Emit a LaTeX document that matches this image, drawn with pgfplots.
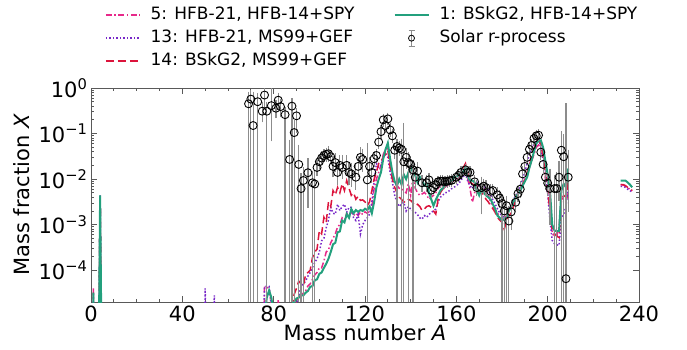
\documentclass[border=0pt]{standalone}
\usepackage{pgfplots}
\pgfplotsset{compat=1.18}
\usepackage{pgfplotstable}
\usepackage{fontspec}
\setmainfont{DejaVu Sans}
\definecolor{cPink}{RGB}{231,41,138}
\definecolor{cPurp}{RGB}{120,40,200}
\definecolor{cRed}{RGB}{220,20,60}
\definecolor{cGreen}{RGB}{35,160,125}
\definecolor{cErr}{RGB}{140,140,140}

\pgfplotstableread[row sep=\\]{
A X ep em\\
75 0.31 0.10 0.10\\ 76 0.70 0.30 0.30\\ 79 0.41 0.45 0.33\\ 81 0.36 0.10 0.10\\ 82 0.54 0.12 0.12\\
83 0.39 0.10 0.12\\ 90 0.245 0.06 0.12\\ 95 0.0138 0.010 0.011\\ 99 0.018 0.004 0.004\\
100 0.024 0.004 0.004\\ 101 0.029 0.005 0.005\\ 102 0.033 0.005 0.005\\ 103 0.035 0.006 0.006\\
104 0.036 0.008 0.008\\ 105 0.031 0.006 0.006\\ 106 0.019 0.008 0.006\\ 107 0.023 0.008 0.006\\
108 0.014 0.006 0.005\\ 109 0.020 0.008 0.006\\ 110 0.018 0.010 0.006\\ 112 0.020 0.008 0.006\\
113 0.014 0.006 0.005\\ 114 0.013 0.006 0.005\\ 116 0.011 0.008 0.004\\ 117 0.019 0.008 0.006\\
118 0.030 0.012 0.010\\ 119 0.027 0.012 0.010\\ 122 0.019 0.006 0.006\\ 123 0.014 0.004 0.004\\
124 0.028 0.006 0.006\\ 125 0.033 0.006 0.006\\ 126 0.065 0.010 0.010\\ 127 0.11 0.02 0.02\\
128 0.20 0.03 0.03\\ 129 0.15 0.03 0.03\\ 130 0.21 0.03 0.03\\ 131 0.12 0.02 0.02\\
132 0.089 0.015 0.015\\ 133 0.043 0.010 0.010\\ 135 0.048 0.010 0.010\\ 138 0.030 0.010 0.010\\
140 0.021 0.006 0.006\\ 142 0.011 0.005 0.004\\ 143 0.015 0.005 0.004\\ 145 0.0083 0.002 0.002\\
147 0.0083 0.002 0.002\\ 148 0.0096 0.002 0.002\\ 149 0.0057 0.001 0.001\\ 150 0.0065 0.001 0.001\\
151 0.0075 0.0012 0.0012\\ 152 0.0087 0.0012 0.0012\\ 153 0.0090 0.0012 0.0012\\ 154 0.0090 0.0012 0.0012\\
155 0.0087 0.0012 0.0012\\ 156 0.0090 0.0012 0.0012\\ 157 0.0092 0.0012 0.0012\\ 158 0.0094 0.0013 0.0013\\
160 0.011 0.0015 0.0015\\ 161 0.012 0.0015 0.0015\\ 162 0.014 0.002 0.002\\ 164 0.016 0.002 0.002\\
165 0.014 0.002 0.002\\ 166 0.014 0.002 0.002\\ 168 0.0087 0.0015 0.0015\\ 169 0.0065 0.0015 0.0015\\
171 0.0065 0.003 0.0045\\ 172 0.0070 0.0015 0.0015\\ 173 0.0065 0.0015 0.0015\\ 175 0.0054 0.001 0.001\\
176 0.0056 0.001 0.001\\ 178 0.0045 0.001 0.001\\ 179 0.0038 0.001 0.001\\ 184 0.0019 0.001 0.001\\
186 0.0031 0.0008 0.0008\\ 187 0.0048 0.001 0.001\\ 188 0.0060 0.0015 0.0015\\ 189 0.013 0.003 0.003\\
190 0.019 0.004 0.004\\ 191 0.030 0.005 0.005\\ 192 0.045 0.007 0.007\\ 193 0.055 0.008 0.008\\
194 0.078 0.01 0.01\\ 195 0.089 0.012 0.012\\ 196 0.092 0.012 0.012\\ 197 0.039 0.008 0.008\\
198 0.021 0.005 0.005\\ 199 0.011 0.004 0.004\\ 200 0.0082 0.003 0.003\\ 201 0.0062 0.008 0.005\\
205 0.011 0.010 0.007\\ 209 0.011 0.026 0.0087\\
}\solarN

\pgfplotstableread[row sep=\\]{
A X ep\\
69 0.45 0.25\\ 70 0.57 0.20\\ 71 0.15 0.55\\ 73 0.50 0.15\\ 77 0.31 0.10\\ 85 0.26 0.06\\
87 0.027 0.035\\ 88 0.40 0.10\\ 89 0.105 0.06\\ 91 0.021 0.027\\ 92 0.0062 0.005\\ 93 0.0093 0.006\\
97 0.0083 0.004\\ 98 0.0078 0.005\\ 121 0.0096 0.042\\ 134 0.052 0.012\\ 136 0.045 0.02\\
137 0.024 0.12\\ 139 0.023 0.01\\ 141 0.016 0.006\\ 180 0.0029 0.001\\ 181 0.0020 0.001\\
182 0.0026 0.001\\ 183 0.0012 0.001\\ 203 0.0062 0.004\\ 204 0.0062 0.006\\ 206 0.043 0.05\\
207 0.031 0.05\\ 208 6.5e-5 0.39\\
}\solarF

\begin{document}
\begin{tikzpicture}
\path[use as bounding box] (0pt,0pt) rectangle (687pt,349pt);
\begin{axis}[
  at={(91pt,47pt)}, anchor=south west,
  scale only axis, width=548pt, height=214pt,
  xmin=0, xmax=240, ymode=log, ymin=2e-5, ymax=1,
  log origin y=infty,
  unbounded coords=jump,
  xtick={0,40,...,240}, minor x tick num=3,
  ytick={1e-4,1e-3,1e-2,1e-1,1},
  yticklabels={10\textsuperscript{−4},10\textsuperscript{−3},10\textsuperscript{−2},10\textsuperscript{−1},10\textsuperscript{0}},
  tick align=inside, tick pos=both,
  major tick length=6pt, minor tick length=3pt,
  axis line style={black!65, line width=0.8pt},
  tick style={black!65, line width=0.8pt},
  /pgf/number format/assume math mode=true,
  ticklabel style={font=\fontsize{21}{25}\selectfont},
  label style={font=\fontsize{21}{25}\selectfont},
  xlabel={Mass number \textit{A}},
  ylabel={Mass fraction \textit{X}},
  xlabel style={at={(axis description cs:0.5,-0.145)}, anchor=center},
  ylabel style={at={(axis description cs:-0.126,0.5)}, anchor=center},
  legend image code/.code={\draw[#1] (0pt,0pt) -- (34pt,0pt);},
  legend style={at={(axis description cs:0.0255,1.388)}, anchor=north west,
    draw=none, fill=none, inner sep=0pt,
    font=\fontsize{17}{20}\selectfont,
    nodes={inner sep=2pt, text height=12.5pt, text depth=3.5pt},
    row sep=3pt,
    /tikz/every odd column/.append style={column sep=8pt},
    /tikz/every even column/.append style={column sep=37pt}},
  legend columns=2, legend cell align=left,
]
\addlegendimage{cPink, line width=1.5pt, dash pattern=on 6pt off 2.5pt on 1.5pt off 2.5pt}
\addlegendimage{cGreen, line width=2pt}
\addlegendimage{cPurp, line width=1.5pt, dash pattern=on 1.5pt off 2pt}
\addlegendimage{legend image code/.code={
  \draw[cErr, line width=1.2pt] (17pt,-8pt) -- (17pt,8pt);
  \draw[cErr, line width=1.2pt] (14pt,-8pt) -- (20pt,-8pt) (14pt,8pt) -- (20pt,8pt);
  \draw[black, line width=0.8pt] (17pt,0pt) circle (3pt);}}
\addlegendimage{cRed, line width=1.5pt, dash pattern=on 8pt off 4pt}
\legend{{5: HFB-21, HFB-14+SPY},{1: BSkG2, HFB-14+SPY},{13: HFB-21, MS99+GEF},{Solar r-process},{14: BSkG2, MS99+GEF}}

% 5: HFB-21, HFB-14+SPY
\addplot[cPink, line width=1.5pt, dash pattern=on 6pt off 2.5pt on 1.5pt off 2.5pt] coordinates {
(1,4.0e-5) (2,1e-8) (3,1e-8) (4,4.4e-3) (5,1e-8) (75,1e-8) (76,4.4e-5) (77,4.2e-5) (78,4.0e-5) (79,1.6e-5) (80,3e-6) (81,1e-8) (82,2.2e-5) (83,1e-8) (87,1e-7) (88,3.2e-6) (89,1.26e-5) (90,2.0e-5) (91,2.5e-5) (92,2.8e-5) (93,3.16e-5) (94,3.5e-5) (95,4.5e-5) (96,5.0e-5) (97,6.3e-5) (98,7.9e-5) (99,8.9e-5) (100,1.12e-4) (101,1.12e-4) (102,1.58e-4) (103,2.5e-4) (104,2.8e-4) (105,4.0e-4) (106,5.0e-4) (107,6.3e-4) (108,8.9e-4) (109,1.0e-3) (110,1.41e-3) (111,1.26e-3) (112,1.78e-3) (113,1.41e-3) (114,2.0e-3) (115,1.58e-3) (116,1.78e-3) (117,1.58e-3) (118,1.9e-3) (119,1.66e-3) (120,1.9e-3) (121,1.78e-3) (122,2.0e-3) (123,2.5e-3) (124,6.3e-3) (125,1.0e-2) (126,1.41e-2) (127,2.0e-2) (128,3.5e-2) (129,4.5e-2) (130,5.0e-2) (131,2.24e-2) (132,1.12e-2) (133,7.9e-3) (134,7.2e-3) (135,6.3e-3) (136,6.2e-3) (137,5.6e-3) (138,5.0e-3) (139,7.9e-3) (140,4.4e-3) (141,1.1e-2) (142,6.3e-3) (143,5.0e-3) (144,4.4e-3) (145,4.7e-3) (146,5.1e-3) (147,4.5e-3) (148,3.6e-3) (149,4.0e-3) (150,4.4e-3) (151,5.0e-3) (152,6.3e-3) (153,7.2e-3) (154,6.6e-3) (155,6.2e-3) (156,7.1e-3) (157,7.9e-3) (158,8.5e-3) (159,9.3e-3) (160,1.0e-2) (161,1.02e-2) (162,1.12e-2) (163,1.41e-2) (164,1.7e-2) (165,1.0e-2) (166,6.2e-3) (167,3.1e-3) (168,5.0e-3) (169,7.2e-3) (170,5.6e-3) (171,5.1e-3) (172,6.2e-3) (173,5.6e-3) (174,4.5e-3) (175,3.1e-3) (176,2.5e-3) (177,2.1e-3) (178,1.86e-3) (179,1.41e-3) (180,1.12e-3) (181,1.41e-3) (182,1.58e-3) (183,2.0e-3) (184,2.5e-3) (185,3.16e-3) (186,4.0e-3) (187,5.0e-3) (188,5.6e-3) (189,7.9e-3) (190,1.0e-2) (191,1.26e-2) (192,1.78e-2) (193,2.5e-2) (194,3.5e-2) (195,5.0e-2) (196,5.6e-2) (197,5.0e-2) (198,3.16e-2) (199,1.0e-2) (200,5.0e-3) (201,2.5e-3) (202,6.3e-4) (203,5.6e-4) (204,5.6e-4) (205,8.9e-4) (206,4.0e-3) (207,3.5e-3) (208,3.16e-3) (209,5.0e-3) (210,nan) (232,7.6e-3) (233,7.4e-3) (234,7.1e-3) (235,6.5e-3) (236,6.0e-3) (237,5.5e-3)
};
% 13: HFB-21, MS99+GEF
\addplot[cPurp, line width=1.5pt, dash pattern=on 1.5pt off 2pt] coordinates {
(1,3.0e-5) (2,1e-8) (3,1e-8) (4,4.4e-3) (5,1e-8) (49,1e-8) (50,4.0e-5) (51,1e-8) (53,1e-8) (54,2.8e-5) (55,1e-8) (75,1e-6) (76,4.4e-5) (77,4.4e-5) (78,4.4e-5) (79,1.6e-5) (80,3e-6) (81,1e-8) (88,1e-6) (89,1.0e-5) (90,1.78e-5) (91,2.7e-5) (92,4.5e-5) (93,5.0e-5) (94,5.75e-5) (95,7.4e-5) (96,8.9e-5) (97,1.15e-4) (98,1.48e-4) (99,1.78e-4) (100,2.5e-4) (101,4.4e-4) (102,5.0e-4) (103,8.5e-4) (104,1.26e-3) (105,2.4e-3) (106,1.78e-3) (107,1.7e-3) (108,2.8e-3) (109,2.04e-3) (110,2.5e-3) (111,2.8e-3) (112,1.86e-3) (113,2.4e-3) (114,2.4e-3) (115,1.41e-3) (116,1.23e-3) (117,1.7e-3) (118,6.2e-4) (119,1.0e-3) (120,1.23e-3) (121,1.41e-3) (122,1.7e-3) (123,3.16e-3) (124,9.3e-3) (125,2.2e-2) (126,1.78e-2) (127,2.0e-2) (128,3.16e-2) (129,3.6e-2) (130,3.0e-2) (131,1.41e-2) (132,8.5e-3) (133,4.4e-3) (134,3.16e-3) (135,2.5e-3) (136,2.8e-3) (137,3.1e-3) (138,2.0e-3) (139,2.5e-3) (140,2.2e-3) (141,2.0e-3) (142,1.86e-3) (143,1.66e-3) (144,1.41e-3) (145,1.32e-3) (146,1.58e-3) (147,1.45e-3) (148,1.66e-3) (149,1.86e-3) (150,2.0e-3) (151,2.2e-3) (152,3.16e-3) (153,4.0e-3) (154,4.4e-3) (155,5.0e-3) (156,5.1e-3) (157,5.6e-3) (158,6.2e-3) (159,6.6e-3) (160,7.2e-3) (161,7.9e-3) (162,9.3e-3) (163,1.12e-2) (164,1.32e-2) (165,8.9e-3) (166,7.2e-3) (167,6.2e-3) (168,7.1e-3) (169,8.5e-3) (170,7.1e-3) (171,6.2e-3) (172,6.6e-3) (173,7.2e-3) (174,5.6e-3) (175,4.4e-3) (176,3.5e-3) (177,2.8e-3) (178,2.24e-3) (179,1.78e-3) (180,1.58e-3) (181,1.45e-3) (182,1.45e-3) (183,2.0e-3) (184,2.6e-3) (185,3.5e-3) (186,4.4e-3) (187,5.6e-3) (188,7.2e-3) (189,1.0e-2) (190,1.41e-2) (191,2.24e-2) (192,3.6e-2) (193,4.7e-2) (194,6.0e-2) (195,7.1e-2) (196,7.9e-2) (197,5.0e-2) (198,2.5e-2) (199,1.58e-2) (200,4.8e-3) (201,1.26e-3) (202,4.5e-4) (203,3.8e-4) (204,3.6e-4) (205,3.5e-4) (206,1.45e-3) (207,1.7e-3) (208,2.5e-3) (209,6.6e-3) (210,nan) (232,6.9e-3) (233,6.9e-3) (234,6.6e-3) (235,6.0e-3) (236,5.6e-3) (237,5.2e-3)
};
% 14: BSkG2, MS99+GEF
\addplot[cRed, line width=1.5pt, dash pattern=on 8pt off 4pt] coordinates {
(1,3.2e-5) (2,1e-8) (3,1e-8) (4,4.4e-3) (5,1e-8) (86,1e-6) (87,1.0e-5) (88,1.58e-5) (89,2.95e-5) (90,4.0e-5) (91,5.75e-5) (92,5.0e-5) (93,4.5e-5) (94,8.1e-5) (95,8.9e-5) (96,1.0e-4) (97,1.9e-4) (98,2.5e-4) (99,2.9e-4) (100,7.4e-4) (101,6.3e-4) (102,1.45e-3) (103,1.12e-3) (104,3.16e-3) (105,2.5e-3) (106,5.6e-3) (107,4.5e-3) (108,6.6e-3) (109,5.0e-3) (110,7.9e-3) (111,5.6e-3) (112,9.3e-3) (113,6.3e-3) (114,4.4e-3) (115,5.0e-3) (116,3.6e-3) (117,4.2e-3) (118,3.4e-3) (119,3.5e-3) (120,3.16e-3) (121,2.6e-3) (122,3.16e-3) (123,5.6e-3) (124,1.0e-2) (125,1.41e-2) (126,2.2e-2) (127,2.5e-2) (128,3.0e-2) (129,3.5e-2) (130,4.3e-2) (131,1.82e-2) (132,1.0e-2) (133,6.6e-3) (134,5.0e-3) (135,4.0e-3) (136,3.6e-3) (137,3.16e-3) (138,3.1e-3) (139,3.6e-3) (140,3.4e-3) (141,3.0e-3) (142,2.6e-3) (143,2.8e-3) (144,2.5e-3) (145,2.04e-3) (146,2.2e-3) (147,2.5e-3) (148,2.6e-3) (149,2.4e-3) (150,2.0e-3) (151,1.7e-3) (152,3.6e-3) (153,5.0e-3) (154,6.0e-3) (155,6.6e-3) (156,7.9e-3) (157,8.5e-3) (158,9.3e-3) (159,1.0e-2) (160,1.12e-2) (161,1.2e-2) (162,1.41e-2) (163,1.78e-2) (164,2.2e-2) (165,1.32e-2) (166,8.5e-3) (167,7.9e-3) (168,7.2e-3) (169,5.6e-3) (170,5.1e-3) (171,5.1e-3) (172,4.5e-3) (173,3.6e-3) (174,3.16e-3) (175,2.6e-3) (176,2.24e-3) (177,1.86e-3) (178,1.45e-3) (179,1.26e-3) (180,1.12e-3) (181,7.9e-4) (182,1.26e-3) (183,1.58e-3) (184,1.78e-3) (185,2.5e-3) (186,3.6e-3) (187,4.7e-3) (188,6.0e-3) (189,7.6e-3) (190,9.3e-3) (191,1.41e-2) (192,2.0e-2) (193,3.16e-2) (194,4.7e-2) (195,6.6e-2) (196,7.1e-2) (197,6.0e-2) (198,3.16e-2) (199,1.26e-2) (200,5.6e-3) (201,2.0e-3) (202,7.9e-4) (203,6.3e-4) (204,5.6e-4) (205,5.2e-4) (206,3.4e-3) (207,4.4e-3) (208,4.0e-3) (209,9.3e-3) (210,nan) (232,7.6e-3) (233,7.6e-3) (234,7.2e-3) (235,6.6e-3) (236,6.3e-3) (237,5.6e-3)
};
% 1: BSkG2, HFB-14+SPY
\addplot[cGreen, line width=2pt] coordinates {
(1,3.2e-5) (2,1e-8) (3,1e-8) (4,4.4e-3) (5,1e-8) (75,1e-8) (76,1.0e-5) (77,2.5e-5) (78,3.6e-5) (79,2.5e-5) (80,1.0e-5) (81,1e-8) (86,3.2e-6) (87,1.0e-5) (88,1.8e-5) (89,2.0e-5) (90,2.4e-5) (91,2.5e-5) (92,2.8e-5) (93,2.8e-5) (94,3.2e-5) (95,3.5e-5) (96,4.3e-5) (97,4.5e-5) (98,6.0e-5) (99,6.3e-5) (100,8.3e-5) (101,8.9e-5) (102,1.12e-4) (103,1.38e-4) (104,1.78e-4) (105,2.5e-4) (106,3.7e-4) (107,4.0e-4) (108,6.8e-4) (109,7.1e-4) (110,1.23e-3) (111,1.12e-3) (112,1.7e-3) (113,1.41e-3) (114,2.19e-3) (115,1.78e-3) (116,2.09e-3) (117,1.91e-3) (118,2.09e-3) (119,2.0e-3) (120,2.24e-3) (121,2.09e-3) (122,2.5e-3) (123,1.78e-3) (124,3.16e-3) (125,6.6e-3) (126,1.0e-2) (127,1.41e-2) (128,2.8e-2) (129,4.5e-2) (130,6.2e-2) (131,2.8e-2) (132,1.41e-2) (133,8.9e-3) (134,7.1e-3) (135,1.0e-2) (136,7.6e-3) (137,1.26e-2) (138,1.0e-2) (139,1.41e-2) (140,1.82e-2) (141,1.41e-2) (142,1.2e-2) (143,8.5e-3) (144,1.12e-2) (145,9.3e-3) (146,7.2e-3) (147,7.9e-3) (148,5.1e-3) (149,3.6e-3) (150,2.6e-3) (151,3.5e-3) (152,4.4e-3) (153,5.6e-3) (154,6.3e-3) (155,7.2e-3) (156,7.6e-3) (157,8.9e-3) (158,9.3e-3) (159,1.1e-2) (160,1.12e-2) (161,1.2e-2) (162,1.35e-2) (163,1.41e-2) (164,1.82e-2) (165,1.12e-2) (166,9.3e-3) (167,9.3e-3) (168,8.5e-3) (169,5.6e-3) (170,4.4e-3) (171,6.0e-3) (172,5.0e-3) (173,4.4e-3) (174,4.0e-3) (175,3.6e-3) (176,2.8e-3) (177,2.24e-3) (178,1.58e-3) (179,1.41e-3) (180,1.23e-3) (181,1.32e-3) (182,1.45e-3) (183,2.0e-3) (184,2.4e-3) (185,3.16e-3) (186,4.0e-3) (187,4.7e-3) (188,5.6e-3) (189,7.1e-3) (190,8.9e-3) (191,1.1e-2) (192,1.78e-2) (193,2.6e-2) (194,4.0e-2) (195,6.0e-2) (196,6.9e-2) (197,7.1e-2) (198,5.0e-2) (199,2.5e-2) (200,1.26e-2) (201,5.6e-3) (202,1.0e-3) (203,7.4e-4) (204,7.2e-4) (205,7.2e-4) (206,5.6e-3) (207,7.9e-3) (208,6.6e-3) (209,1.7e-2) (210,nan) (232,9.3e-3) (233,9.3e-3) (234,9.3e-3) (235,8.5e-3) (236,7.6e-3) (237,6.6e-3)
};

% Solar r-process: bars reaching below the axis
\addplot[ycomb, cErr, line width=1.2pt] table[x=A, y=X] {\solarF};
\addplot[draw=none, mark=none, error bars/.cd, y dir=plus, y explicit,
  error bar style={cErr, line width=1.2pt},
  error mark options={cErr, line width=1.2pt, mark size=3.5pt}]
  table[x=A, y=X, y error plus=ep] {\solarF};
\addplot[draw=none, mark=none, error bars/.cd, y dir=both, y explicit,
  error bar style={cErr, line width=1.2pt},
  error mark options={cErr, line width=1.2pt, mark size=3.5pt}]
  table[x=A, y=X, y error plus=ep, y error minus=em] {\solarN};
\addplot[only marks, mark=o, mark size=4pt, mark options={black, line width=0.9pt}] table[x=A, y=X] {\solarN};
\addplot[only marks, mark=o, mark size=4pt, mark options={black, line width=0.9pt}] table[x=A, y=X] {\solarF};
\end{axis}
\end{tikzpicture}
\end{document}
